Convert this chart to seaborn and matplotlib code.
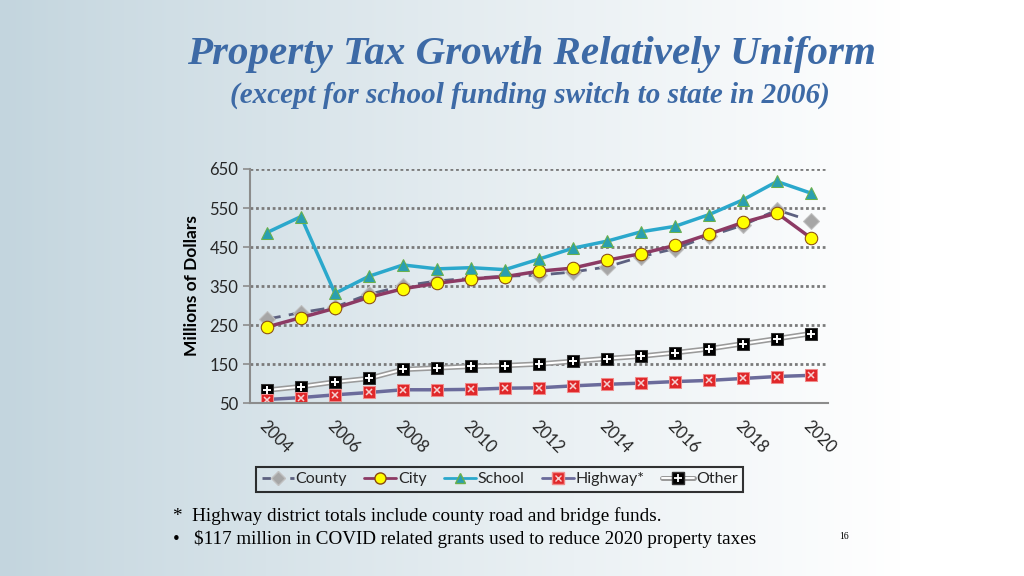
import numpy as np
import matplotlib.pyplot as plt
import seaborn as sns
from matplotlib.lines import Line2D
from matplotlib.legend_handler import HandlerTuple

# values (millions of dollars)
years = list(range(2004, 2021))
county = [265, 282, 296, 329, 350, 363, 370, 375, 378, 386, 399, 425, 446, 478, 506, 545, 517]
city = [245, 269, 293, 321, 343, 357, 368, 374, 388, 396, 416, 433, 454, 483, 513, 537, 473]
school = [487, 528, 331, 375, 404, 394, 397, 392, 419, 447, 465, 489, 503, 533, 571, 618, 588]
highway = [59, 64, 71, 77, 84, 84, 85, 88, 89, 94, 98, 101, 105, 108, 113, 118, 121]
other = [83, 92, 104, 113, 136, 140, 144, 146, 150, 157, 164, 170, 179, 189, 202, 215, 228]
year_labels = [str(y) for y in range(2004, 2021, 2)]
y_ticks = [50, 150, 250, 350, 450, 550, 650]

sns.set_theme(style="white")
plt.rcParams['font.family'] = ['Lato', 'DejaVu Sans']

fig = plt.figure(figsize=(10.24, 5.76), dpi=100)

# slide background: blue-grey on the left fading to white
bg = fig.add_axes([0, 0, 1, 1], zorder=-10)
xs = np.linspace(0, 1, 512)
t = np.clip(xs / 0.88, 0, 1) ** 0.9
c_left = np.array([195, 213, 222]) / 255
grad = c_left[None, :] * (1 - t[:, None]) + np.ones(3)[None, :] * t[:, None]
bg.imshow(grad[None, :, :], aspect='auto', extent=[0, 1, 0, 1])
bg.axis('off')

ax = fig.add_axes([0.2441, 0.3003, 0.5645, 0.4063])
ax.set_facecolor('none')

# -----------------------------
# series
# -----------------------------
sns.lineplot(x=years, y=other, ax=ax, color='#9a9a9a', lw=3.8)
sns.lineplot(x=years, y=other, ax=ax, color='white', lw=1.5)
sns.lineplot(x=years, y=other, ax=ax, lw=0, marker='s', markersize=9,
             markerfacecolor='black', markeredgecolor='#333333')
sns.lineplot(x=years, y=other, ax=ax, lw=0, marker='+', markersize=6,
             markeredgewidth=1.4, color='white', markeredgecolor='white')

sns.lineplot(x=years, y=highway, ax=ax, color='#6b6b9b', lw=2.5, marker='s',
             markersize=9, markerfacecolor='#e0282a', markeredgecolor='#f08a8a')
sns.lineplot(x=years, y=highway, ax=ax, lw=0, marker='x', markersize=5,
             markeredgewidth=1.1, color='#f5d0d0', markeredgecolor='#f5d0d0')

sns.lineplot(x=years, y=county, ax=ax, color='#5d6180', lw=2, linestyle=(0, (5, 3)),
             marker='D', markersize=8, markerfacecolor='#a6a6a6', markeredgecolor='#c0c0c0')
sns.lineplot(x=years, y=city, ax=ax, color='#8c3a64', lw=2.5, marker='o',
             markersize=9, markerfacecolor='#ffff00', markeredgecolor='#8a4a10')
sns.lineplot(x=years, y=school, ax=ax, color='#2ba8cc', lw=2.5, marker='^',
             markersize=8, markerfacecolor='#2a9fb0', markeredgecolor='#6ab04c')

# -----------------------------
# axes
# -----------------------------
ax.set_xlim(2003.5, 2020.5)
ax.set_ylim(50, 650)
ax.set_yticks(y_ticks)
ax.set_yticklabels([str(v) for v in y_ticks], fontsize=12, color='#262626')
ax.set_xticks(range(2004, 2021, 2))
ax.set_xticklabels(year_labels, rotation=-45, ha='left', va='top',
                   rotation_mode='anchor', fontsize=12, color='#262626')
ax.set_xticks(np.arange(2003.5, 2021, 1), minor=True)
ax.tick_params(axis='x', which='major', length=0, pad=11)
ax.tick_params(axis='x', which='minor', length=5, width=1.2, color='#8c8c8c', direction='out')
ax.tick_params(axis='y', length=5, width=1.2, color='#8c8c8c', direction='out', left=True)
ax.yaxis.grid(True, color='#7a7a7a', linestyle=(0, (1, 1)), lw=2)
ax.set_axisbelow(True)
for s in ['top', 'right']:
    ax.spines[s].set_visible(False)
for s in ['left', 'bottom']:
    ax.spines[s].set_color('#8c8c8c')
    ax.spines[s].set_linewidth(1.5)
ax.set_xlabel('')
ax.set_ylabel('')

fig.text(0.1875, 0.505, 'Millions of Dollars', rotation=90, ha='center', va='center',
         fontsize=12.5, fontweight='bold', color='black')

# -----------------------------
# legend
# -----------------------------
h_county = Line2D([], [], color='#5d6180', lw=2, linestyle=(0, (3, 2)), marker='D',
                  markersize=7, markerfacecolor='#a6a6a6', markeredgecolor='#c0c0c0')
h_city = Line2D([], [], color='#8c3a64', lw=2, marker='o', markersize=8,
                markerfacecolor='#ffff00', markeredgecolor='#8a4a10')
h_school = Line2D([], [], color='#2ba8cc', lw=2, marker='^', markersize=7,
                  markerfacecolor='#2a9fb0', markeredgecolor='#6ab04c')
h_high = (Line2D([], [], color='#6b6b9b', lw=2, marker='s', markersize=8,
                 markerfacecolor='#e0282a', markeredgecolor='#f08a8a'),
          Line2D([], [], lw=0, marker='x', markersize=4.5, markeredgewidth=1,
                 markeredgecolor='#f5d0d0'))
h_other = (Line2D([], [], color='#9a9a9a', lw=3.6),
           Line2D([], [], color='white', lw=1.4),
           Line2D([], [], lw=0, marker='s', markersize=8, markerfacecolor='black',
                  markeredgecolor='#333333'),
           Line2D([], [], lw=0, marker='+', markersize=5.5, markeredgewidth=1.3,
                  markeredgecolor='white'))
leg = fig.legend([h_county, h_city, h_school, h_high, h_other],
                 ['County', 'City', 'School', 'Highway*', 'Other'],
                 handler_map={tuple: HandlerTuple(ndivide=1)},
                 loc='center', bbox_to_anchor=(0.488, 0.168), ncol=5, fontsize=11.5,
                 frameon=True, fancybox=False, edgecolor='black', facecolor='none',
                 handlelength=2.0, handletextpad=0.1, columnspacing=1.1,
                 borderpad=0.35)
leg.get_frame().set_linewidth(1.5)

# -----------------------------
# titles and notes
# -----------------------------
fig.text(0.5186, 0.905, 'Property Tax Growth Relatively Uniform', ha='center', va='center',
         family='Liberation Serif', fontweight='bold', style='italic', fontsize=29.5,
         color='#3d6aa6')
fig.text(0.5176, 0.835, '(except for school funding switch to state in 2006)', ha='center',
         va='center', family='Liberation Serif', fontweight='bold', style='italic',
         fontsize=21, color='#3d6aa6')
fig.text(0.169, 0.104, '*  Highway district totals include county road and bridge funds.',
         ha='left', va='center', family='Liberation Serif', fontsize=13.8, color='black')
fig.text(0.169, 0.064, r'•   \$117 million in COVID related grants used to reduce 2020 property taxes',
         ha='left', va='center', family='Liberation Serif', fontsize=13.8, color='black')
fig.text(0.82, 0.069, '16', ha='left', va='center', family='Liberation Serif',
         fontsize=7, color='black')

fig.savefig('out.png', dpi=100)
